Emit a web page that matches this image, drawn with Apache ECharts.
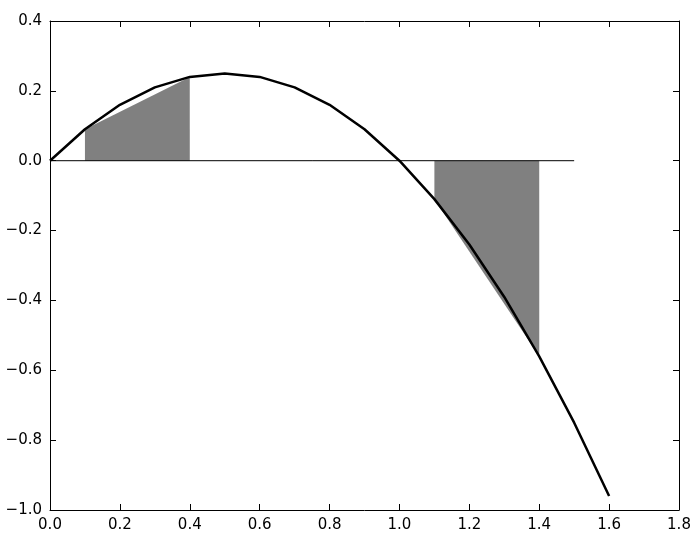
<!DOCTYPE html>
<html>
<head>
<meta charset="utf-8">
<script src="https://cdn.jsdelivr.net/npm/echarts@6/dist/echarts.min.js"></script>
<style>
  html, body { margin: 0; padding: 0; background: #fff; }
  #chart { width: 700px; height: 540px; }
</style>
</head>
<body>
<div id="chart"></div>
<script>
// curve y = x - x^2 sampled every 0.1
var xs = [0, 0.1, 0.2, 0.3, 0.4, 0.5, 0.6, 0.7, 0.8, 0.9, 1.0, 1.1, 1.2, 1.3, 1.4, 1.5, 1.6]
var ys = [0, 0.09, 0.16, 0.21, 0.24, 0.25, 0.24, 0.21, 0.16, 0.09, 0, -0.11, -0.24, -0.39, -0.56, -0.75, -0.96]
// shaded trapezoids (top edge endpoints, filled down to y=0)
var shadeA = [[0.1, 0.09], [0.4, 0.24]]
var shadeB = [[1.1, -0.11], [1.4, -0.56]]
// zero line
var zeroLine = [[0, 0], [1.5, 0]]

var font = 'DejaVu Sans'
var fmt = function (v) {
  var s = v.toFixed(1)
  return s.replace('-', '\u2212')
}

var curve = xs.map(function (x, i) { return [x, ys[i]] })

var chart = echarts.init(document.getElementById('chart'))

var baseAxis = {
  type: 'value',
  axisLine: { show: true, onZero: false, lineStyle: { color: '#000', width: 1 } },
  axisTick: { show: true, inside: true, length: 6, lineStyle: { color: '#000' } },
  splitLine: { show: false },
  axisLabel: { color: '#000', fontFamily: font, fontSize: 15, formatter: fmt }
}

chart.setOption({
  animation: false,
  grid: { left: 50, right: 21, top: 21, bottom: 30, containLabel: false },
  xAxis: [
    Object.assign({}, baseAxis, { min: 0, max: 1.8, interval: 0.2, position: 'bottom',
      axisLabel: Object.assign({}, baseAxis.axisLabel, { margin: 8 }) }),
    Object.assign({}, baseAxis, { min: 0, max: 1.8, interval: 0.2, position: 'top',
      axisLabel: { show: false } })
  ],
  yAxis: [
    Object.assign({}, baseAxis, { min: -1.0, max: 0.4, interval: 0.2, position: 'left',
      axisLabel: Object.assign({}, baseAxis.axisLabel, { margin: 8 }) }),
    Object.assign({}, baseAxis, { min: -1.0, max: 0.4, interval: 0.2, position: 'right',
      axisLabel: { show: false } })
  ],
  series: [
    {
      type: 'line', data: shadeA, symbol: 'none',
      lineStyle: { width: 0 }, itemStyle: { color: '#808080' },
      areaStyle: { color: '#808080', opacity: 1, origin: 0 }, z: 1
    },
    {
      type: 'line', data: shadeB, symbol: 'none',
      lineStyle: { width: 0 }, itemStyle: { color: '#808080' },
      areaStyle: { color: '#808080', opacity: 1, origin: 0 }, z: 1
    },
    {
      type: 'line', data: zeroLine, symbol: 'none',
      lineStyle: { color: '#000', width: 1 }, z: 2
    },
    {
      type: 'line', data: curve, symbol: 'none',
      lineStyle: { color: '#000', width: 2.5 }, z: 3
    }
  ]
})
</script>
</body>
</html>
